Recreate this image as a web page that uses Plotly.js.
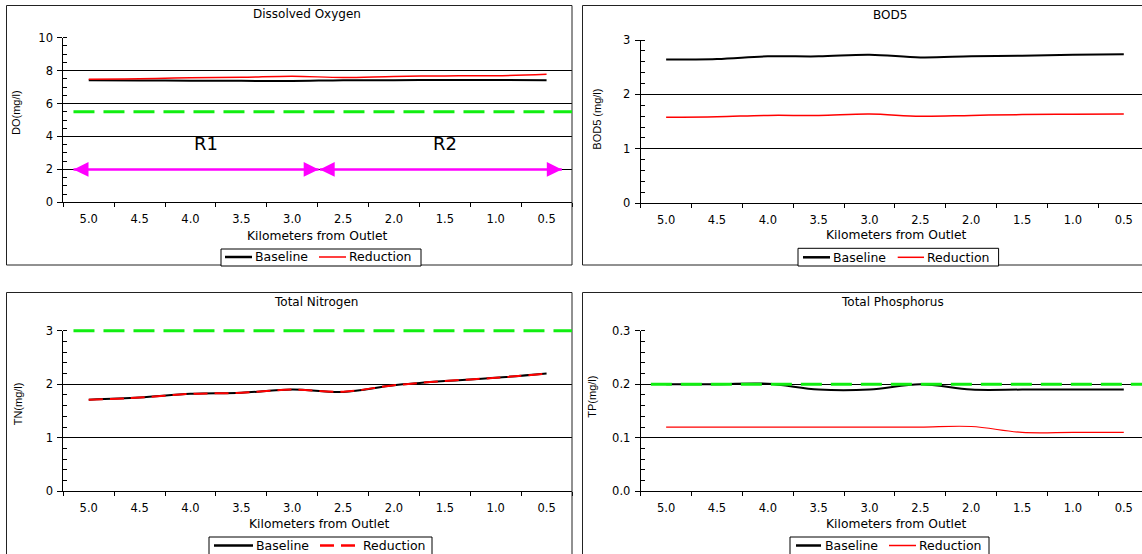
<!DOCTYPE html>
<html>
<head>
<meta charset="utf-8">
<script src="https://cdn.plot.ly/plotly-3.0.1.min.js"></script>
<style>
  html, body { margin: 0; padding: 0; background: #fff; overflow: hidden; }
  #chart { width: 1142px; height: 554px; }
</style>
</head>
<body>
<div id="chart"></div>
<script>
// ---------------- DATA ----------------
const km = [5.0, 4.5, 4.0, 3.5, 3.0, 2.5, 2.0, 1.5, 1.0, 0.5];
const kmLabels = ['5.0', '4.5', '4.0', '3.5', '3.0', '2.5', '2.0', '1.5', '1.0', '0.5'];

const doBaseline  = [7.41, 7.40, 7.39, 7.38, 7.37, 7.42, 7.42, 7.43, 7.43, 7.42];
const doReduction = [7.48, 7.50, 7.57, 7.59, 7.66, 7.58, 7.65, 7.68, 7.69, 7.78];

const bodBaseline  = [2.64, 2.65, 2.70, 2.70, 2.73, 2.68, 2.70, 2.71, 2.73, 2.74];
const bodReduction = [1.58, 1.59, 1.615, 1.615, 1.64, 1.60, 1.615, 1.63, 1.635, 1.64];

const tnBaseline  = [1.71, 1.75, 1.82, 1.84, 1.90, 1.855, 1.98, 2.06, 2.12, 2.20];
const tnReduction = [1.71, 1.75, 1.82, 1.84, 1.90, 1.86, 1.98, 2.06, 2.12, 2.20];

const tpBaseline  = [0.200, 0.200, 0.201, 0.190, 0.190, 0.200, 0.190, 0.190, 0.190, 0.190];
const tpReduction = [0.120, 0.120, 0.120, 0.120, 0.120, 0.120, 0.121, 0.110, 0.110, 0.110];

// water-quality standards (green dashed lines)
const doStandard = 5.5;
const tnStandard = 3.0;
const tpStandard = 0.2;

// reaches shown in the DO panel
const reachNames   = ['R1', 'R2'];
const reachFromKm  = [5.15, 2.73];
const reachToKm    = [2.74, 0.35];
const reachLevel   = 2;
const reachLabelKm = [3.85, 1.50];
const reachLabelY  = 3.55;

const panelTitles = ['Dissolved Oxygen', 'BOD5', 'Total Nitrogen', 'Total Phosphorus'];
const yTitles = ['DO(mg/l)', 'BOD5 (mg/l)', 'TN(mg/l)', 'TP(mg/l)'];
const xTitle = 'Kilometers from Outlet';
const seriesNames = ['Baseline', 'Reduction'];

// ---------------- LAYOUT HELPERS ----------------
const W = 1142, H = 554;
const fx = x => x / W;
const fy = y => 1 - y / H;
const FONT = 'DejaVu Sans, Arial, sans-serif';
const FONT2 = 'Liberation Sans, Arial, sans-serif';
const GREEN = '#11ee11';
const MAGENTA = '#ff00ff';
const RED = '#ff0000';
const RED_DASH = '14px,7px';
const X_START = 5.25;

function xAxis(d0, d1, rEnd, anchor) {
  return {
    domain: [d0, d1], range: [X_START, rEnd], anchor: anchor,
    tickmode: 'array', tickvals: km, ticktext: kmLabels, ticks: '',
    ticklabelstandoff: 6,
    showgrid: false, zeroline: false, showline: true, linecolor: '#000', linewidth: 1,
    tickfont: { family: FONT, size: 11.5, color: '#000' },
    minor: { tickmode: 'linear', tick0: 0.25, dtick: 0.5, ticks: 'outside', ticklen: 4,
             tickcolor: '#000', tickwidth: 1, showgrid: false },
    fixedrange: true
  };
}
function yAxis(d0, d1, range, dtick, minorDtick, anchor, fmt) {
  return {
    domain: [d0, d1], range: range, anchor: anchor,
    tick0: 0, dtick: dtick, tickformat: fmt || '',
    ticks: 'outside', ticklen: 5, tickcolor: '#000', tickwidth: 1,
    ticklabelstandoff: 2,
    showgrid: true, gridcolor: '#000', gridwidth: 1,
    showline: true, linecolor: '#000', linewidth: 1, zeroline: false,
    tickfont: { family: FONT, size: 11.5, color: '#000' },
    minor: { tick0: 0, dtick: minorDtick, ticks: 'inside', ticklen: 4,
             tickcolor: '#000', tickwidth: 1, showgrid: false },
    fixedrange: true
  };
}

// ---------------- TRACES ----------------
function pair(base, red, xa, ya, redDash, redWidth) {
  return [
    { x: km, y: base, xaxis: xa, yaxis: ya, name: seriesNames[0], showlegend: false,
      mode: 'lines', line: { color: '#000', width: 2, shape: 'spline', smoothing: 1 } },
    { x: km, y: red, xaxis: xa, yaxis: ya, name: seriesNames[1], showlegend: false,
      mode: 'lines', line: { color: RED, width: redWidth, dash: redDash || 'solid',
                             shape: 'spline', smoothing: 1 } }
  ];
}
const data = [].concat(
  pair(doBaseline, doReduction, 'x', 'y', null, 1.5),
  pair(bodBaseline, bodReduction, 'x2', 'y2', null, 1.5),
  pair(tnBaseline, tnReduction, 'x3', 'y3', RED_DASH, 2),
  pair(tpBaseline, tpReduction, 'x4', 'y4', null, 1.2)
);

// ---------------- SHAPES ----------------
const shapes = [];
function seg(x0, y0, x1, y1, color, width, dash) {
  shapes.push({ type: 'line', xref: 'paper', yref: 'paper',
    x0: fx(x0), y0: fy(y0), x1: fx(x1), y1: fy(y1),
    line: { color: color, width: width, dash: dash || 'solid' }, layer: 'above' });
}
// panel borders (right/bottom edges of outer panels fall outside the picture)
function border(l, r, t, b) {
  seg(l, t, r, t, '#222', 1);
  seg(l, t, l, b, '#222', 1);
  if (b < H) seg(l, b, r, b, '#222', 1);
  if (r < W) seg(r, t, r, b, '#222', 1);
}
border(6.5, 572, 5.5, 265);
border(582.5, W, 5.5, 265);
border(6.5, 572, 292.5, H);
border(582.5, W, 292.5, H);

// standards: placed by the axis scale (value -> fraction of the axis domain)
function standard(v, ax, ay, yRange, rEnd) {
  const f = (v - yRange[0]) / (yRange[1] - yRange[0]);
  shapes.push({ type: 'line', xref: ax + ' domain', yref: ay + ' domain',
    x0: (X_START - 5.15) / (X_START - rEnd), x1: 1, y0: f, y1: f,
    line: { color: GREEN, width: 3, dash: '21px,9px' }, layer: 'above' });
}
standard(doStandard, 'x', 'y', [0, 10], 0.25);
standard(tnStandard, 'x3', 'y3', [0, 3], 0.25);
standard(tpStandard, 'x4', 'y4', [0, 0.3], 0.321);

// reach arrows
reachNames.forEach((n, i) => {
  shapes.push({ type: 'line', xref: 'x', yref: 'y', x0: reachFromKm[i], x1: reachToKm[i],
    y0: reachLevel, y1: reachLevel, line: { color: MAGENTA, width: 2.5 }, layer: 'above' });
  shapes.push({ type: 'path', xref: 'x', yref: 'y', xsizemode: 'pixel', ysizemode: 'pixel',
    xanchor: reachFromKm[i], yanchor: reachLevel, path: 'M0,0L15,7.3L15,-7.3Z',
    fillcolor: MAGENTA, line: { width: 0 }, layer: 'above' });
  shapes.push({ type: 'path', xref: 'x', yref: 'y', xsizemode: 'pixel', ysizemode: 'pixel',
    xanchor: reachToKm[i], yanchor: reachLevel, path: 'M0,0L-15,7.3L-15,-7.3Z',
    fillcolor: MAGENTA, line: { width: 0 }, layer: 'above' });
});

// ---------------- ANNOTATIONS ----------------
const annotations = [];
function txt(t, x, y, size, family, angle, anchor) {
  annotations.push({ text: t, xref: 'paper', yref: 'paper', x: fx(x), y: fy(y),
    xanchor: anchor || 'center', yanchor: 'middle', showarrow: false, textangle: angle || 0,
    font: { family: family || FONT, size: size, color: '#000' } });
}
// panel titles
txt(panelTitles[0], 307, 14.3, 12);
txt(panelTitles[1], 890, 14.7, 12);
txt(panelTitles[2], 316, 302.3, 12);
txt(panelTitles[3], 892, 302.3, 12);
// x titles
txt(xTitle, 317, 235.5, 12.3);
txt(xTitle, 896, 235, 12.3);
txt(xTitle, 319, 523.5, 12.3);
txt(xTitle, 896, 523.5, 12.3);
// y titles
txt(yTitles[0], 15.5, 112.5, 11, FONT2, -90);
txt(yTitles[1], 596.7, 119, 11, FONT2, -90);
txt(yTitles[2], 18.3, 404, 11, FONT2, -90);
txt(yTitles[3], 591.7, 397, 11, FONT2, -90);
// reach labels
reachNames.forEach((n, i) => annotations.push({ text: n, xref: 'x', yref: 'y',
  x: reachLabelKm[i], y: reachLabelY, showarrow: false, xanchor: 'center', yanchor: 'middle',
  font: { family: FONT, size: 18, color: '#000' } }));

// ---------------- LEGEND BOXES ----------------
// box [left, right, top, bottom], item rows [lineStart, lineEnd, textStart], centre y
function legendBox(box, items, cy, redDash) {
  shapes.push({ type: 'rect', xref: 'paper', yref: 'paper',
    x0: fx(box[0]), x1: fx(box[1]), y0: fy(box[3]), y1: fy(box[2]),
    fillcolor: '#fff', line: { color: '#000', width: 1 }, layer: 'above' });
  seg(items[0][0], cy, items[0][1], cy, '#000', 2.5);
  seg(items[1][0], cy, items[1][1], cy, RED, redDash ? 2.5 : 1.5, redDash || 'solid');
  txt(seriesNames[0], items[0][2], cy, 12.5, FONT, 0, 'left');
  txt(seriesNames[1], items[1][2], cy, 12.5, FONT, 0, 'left');
}
legendBox([221, 421, 249, 266], [[225, 252, 253], [319, 346, 347]], 257);
legendBox([798, 998.6, 248.3, 266], [[803, 830, 831], [897.7, 924, 925]], 257.3);
legendBox([209, 432, 537, 580], [[214, 253, 254], [320, 355, 360.5]], 545.5, RED_DASH);
legendBox([790, 989, 537, 580], [[796, 821, 823], [889, 916, 916.6]], 545.5);

const layout = {
  width: W, height: H,
  margin: { l: 0, r: 0, t: 0, b: 0 },
  paper_bgcolor: '#fff', plot_bgcolor: 'rgba(0,0,0,0)',
  hovermode: false, showlegend: false,
  xaxis:  xAxis(fx(63.3), fx(572), 0.25, 'y'),
  yaxis:  yAxis(fy(202.3), fy(37.7), [0, 10], 2, 0.5, 'x'),
  xaxis2: xAxis(fx(640.7), 1, 0.321, 'y2'),
  yaxis2: yAxis(fy(203.3), fy(40), [0, 3], 1, 0.2, 'x2'),
  xaxis3: xAxis(fx(63.3), fx(572), 0.25, 'y3'),
  yaxis3: yAxis(fy(491.3), fy(330.7), [0, 3], 1, 0.2, 'x3'),
  xaxis4: xAxis(fx(640.7), 1, 0.321, 'y4'),
  yaxis4: yAxis(fy(491.3), fy(330.7), [0, 0.3], 0.1, 0.02, 'x4', '.1f'),
  shapes: shapes,
  annotations: annotations
};

Plotly.newPlot('chart', data, layout, { displayModeBar: false, staticPlot: true });
</script>
</body>
</html>
